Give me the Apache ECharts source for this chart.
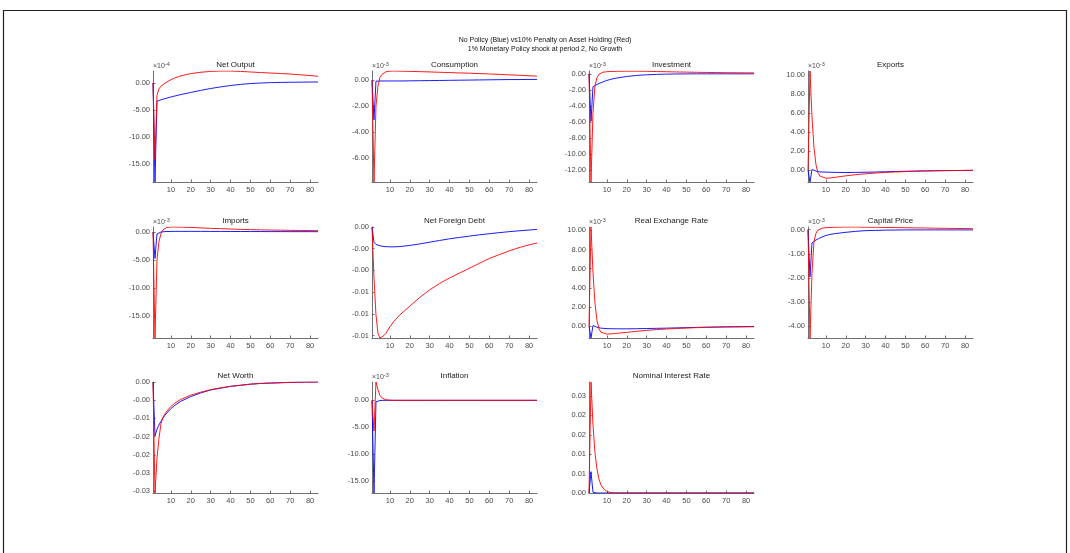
<!DOCTYPE html>
<html>
<head>
<meta charset="utf-8">
<script src="https://cdn.jsdelivr.net/npm/echarts@6/dist/echarts.min.js"></script>
<style>
html,body{margin:0;padding:0;background:#fff;}
#chart{width:1070px;height:553px;}
</style>
</head>
<body>
<div id="chart"></div>
<script>
// ---------- data ----------
const periods = [1,2,3,4,5,6,7,8,10,12,15,20,25,30,35,40,45,50,55,60,65,70,75,80,84];
const xTicks = [10,20,30,40,50,60,70,80];

const supTitle = 'No Policy (Blue) vs10% Penalty on Asset Holding (Red)\n1% Monetary Policy shock at period 2, No Growth';
const titles = ['Net Output','Consumption','Investment','Exports','Imports','Net Foreign Debt','Real Exchange Rate','Capital Price','Net Worth','Inflation','Nominal Interest Rate'];
const exponents = [-4,-3,-3,-3,-3,null,-3,-3,null,-3,null];

// Net Output (x1e-4)
const netOutputBlue = [0,-18.3,-3.4,-3.25,-3.12,-3.0,-2.9,-2.8,-2.6,-2.42,-2.15,-1.76,-1.38,-1.03,-0.74,-0.48,-0.28,-0.12,-0.02,0.05,0.09,0.12,0.14,0.16,0.17];
const netOutputRed  = [0,-14.2,-2.3,-1.1,-0.6,-0.3,-0.05,0.18,0.6,0.92,1.3,1.72,1.97,2.12,2.2,2.2,2.12,2.02,1.92,1.83,1.74,1.64,1.5,1.36,1.23];
const netOutputTicks = [-15,-10,-5,0];
const netOutputTickLabels = ['-15.00','-10.00','-5.00','0.00'];
const netOutputRange = [-18.3, 2.2];

// Consumption (x1e-3)
const consumptionBlue = [0,-3.06,-0.08,-0.06,-0.06,-0.06,-0.06,-0.06,-0.06,-0.06,-0.06,-0.05,-0.04,-0.03,-0.02,-0.01,0.0,0.01,0.02,0.03,0.04,0.05,0.05,0.06,0.06];
const consumptionRed  = [0,-7.86,-2.0,-0.45,0.2,0.45,0.58,0.65,0.70,0.71,0.70,0.68,0.66,0.64,0.61,0.59,0.56,0.54,0.51,0.48,0.45,0.41,0.38,0.34,0.31];
const consumptionTicks = [-6,-4,-2,0];
const consumptionTickLabels = ['-6.00','-4.00','-2.00','0.00'];
const consumptionRange = [-7.86, 0.71];

// Investment (x1e-3)
const investmentBlue = [0,-5.9,-1.6,-1.45,-1.32,-1.2,-1.1,-1.0,-0.82,-0.68,-0.52,-0.33,-0.2,-0.12,-0.07,-0.04,-0.02,-0.01,0,0,0,0,0,0,0];
const investmentRed  = [0,-13.44,-4.8,-1.5,-0.5,-0.05,0.12,0.2,0.26,0.29,0.31,0.33,0.33,0.31,0.28,0.26,0.23,0.21,0.19,0.17,0.155,0.14,0.13,0.12,0.11];
const investmentTicks = [-12,-10,-8,-6,-4,-2,0];
const investmentTickLabels = ['-12.00','-10.00','-8.00','-6.00','-4.00','-2.00','0.00'];
const investmentRange = [-13.44, 0.35];

// Exports (x1e-3)
const exportsBlue = [0,-1.25,0.07,0.0,-0.1,-0.16,-0.19,-0.2,-0.21,-0.22,-0.24,-0.25,-0.24,-0.22,-0.2,-0.17,-0.14,-0.12,-0.1,-0.08,-0.06,-0.05,-0.04,-0.03,-0.02];
const exportsRed  = [0,10.45,5.6,2.4,0.6,-0.3,-0.62,-0.76,-0.85,-0.83,-0.75,-0.6,-0.48,-0.38,-0.3,-0.24,-0.19,-0.15,-0.12,-0.09,-0.07,-0.05,-0.04,-0.03,-0.02];
const exportsTicks = [0,2,4,6,8,10];
const exportsTickLabels = ['0.00','2.00','4.00','6.00','8.00','10.00'];
const exportsRange = [-1.25, 10.45];

// Imports (x1e-3)
const importsBlue = [0,-4.7,-0.35,-0.1,0.0,0.05,0.08,0.1,0.11,0.12,0.12,0.12,0.12,0.11,0.11,0.1,0.1,0.09,0.09,0.08,0.08,0.07,0.07,0.07,0.06];
const importsRed  = [0,-18.9,-5.0,-1.7,-0.3,0.4,0.7,0.82,0.9,0.9,0.88,0.82,0.74,0.66,0.6,0.54,0.48,0.43,0.39,0.36,0.33,0.3,0.28,0.26,0.25];
const importsTicks = [-15,-10,-5,0];
const importsTickLabels = ['-15.00','-10.00','-5.00','0.00'];
const importsRange = [-18.9, 0.9];

// Net Foreign Debt
const nfdBlue = [0,-0.0014,-0.0016,-0.00168,-0.00173,-0.00177,-0.0018,-0.00182,-0.00183,-0.00183,-0.0018,-0.0017,-0.00156,-0.0014,-0.00124,-0.00109,-0.00096,-0.00084,-0.00072,-0.00062,-0.00052,-0.00043,-0.00035,-0.00028,-0.00022];
const nfdRed  = [0,-0.0047,-0.0081,-0.0098,-0.01023,-0.0102,-0.0100,-0.0098,-0.0092,-0.0087,-0.0081,-0.0073,-0.0065,-0.0058,-0.0052,-0.0047,-0.00425,-0.0038,-0.00335,-0.0029,-0.00255,-0.0022,-0.0019,-0.00165,-0.00148];
const nfdTicks = [-0.01,-0.008,-0.006,-0.004,-0.002,0];
const nfdTickLabels = ['-0.01','-0.01','-0.01','-0.00','-0.00','0.00'];
const nfdRange = [-0.01023, 0];

// Real Exchange Rate (x1e-3)
const rerBlue = [0,-1.25,0.05,-0.03,-0.12,-0.18,-0.22,-0.25,-0.27,-0.28,-0.29,-0.29,-0.28,-0.26,-0.24,-0.22,-0.19,-0.17,-0.14,-0.12,-0.1,-0.08,-0.07,-0.06,-0.05];
const rerRed  = [0,10.35,5.6,2.4,0.6,-0.3,-0.65,-0.78,-0.84,-0.82,-0.76,-0.66,-0.55,-0.45,-0.37,-0.31,-0.26,-0.21,-0.17,-0.14,-0.12,-0.1,-0.09,-0.08,-0.07];
const rerTicks = [0,2,4,6,8,10];
const rerTickLabels = ['0.00','2.00','4.00','6.00','8.00','10.00'];
const rerRange = [-1.25, 10.35];

// Capital Price (x1e-3)
const capBlue = [0,-1.95,-0.55,-0.48,-0.43,-0.38,-0.34,-0.3,-0.24,-0.2,-0.16,-0.11,-0.07,-0.04,-0.03,-0.02,-0.015,-0.01,-0.01,-0.01,-0.01,-0.01,-0.01,-0.01,-0.01];
const capRed  = [0,-4.48,-1.8,-0.5,-0.15,-0.02,0.03,0.06,0.08,0.09,0.1,0.11,0.11,0.1,0.1,0.09,0.085,0.08,0.075,0.07,0.06,0.055,0.05,0.045,0.04];
const capTicks = [-4,-3,-2,-1,0];
const capTickLabels = ['-4.00','-3.00','-2.00','-1.00','0.00'];
const capRange = [-4.48, 0.11];

// Net Worth
const nwBlue = [0,-0.0148,-0.013,-0.0118,-0.0108,-0.0099,-0.0091,-0.0085,-0.0073,-0.0064,-0.0053,-0.0040,-0.0030,-0.0022,-0.0017,-0.0012,-0.0009,-0.0006,-0.0004,-0.0003,-0.0002,-0.0001,-0.00005,0,0];
const nwRed  = [0,-0.0305,-0.021,-0.0155,-0.0115,-0.0097,-0.0088,-0.0080,-0.0067,-0.0058,-0.0048,-0.0036,-0.0028,-0.0021,-0.0016,-0.0012,-0.0009,-0.0006,-0.0004,-0.0003,-0.0002,-0.0001,-0.00005,0,0];
const nwTicks = [-0.03,-0.025,-0.02,-0.015,-0.01,-0.005,0];
const nwTickLabels = ['-0.03','-0.03','-0.02','-0.02','-0.01','-0.00','0.00'];
const nwRange = [-0.0305, 0];

// Inflation (x1e-3)
const inflBlue = [0,-17.2,-0.3,-0.1,-0.03,0,0,0,0,0,0,0,0,0,0,0,0,0,0,0,0,0,0,0,0];
const inflRed  = [0,-5.7,3.4,2.0,0.9,0.45,0.22,0.1,0.02,0,0,0,0,0,0,0,0,0,0,0,0,0,0,0,0];
const inflTicks = [-15,-10,-5,0];
const inflTickLabels = ['-15.00','-10.00','-5.00','0.00'];
const inflRange = [-17.2, 3.4];

// Nominal Interest Rate
const nirBlue = [0,0.0055,0.0002,0,0,0,0,0,0,0,0,0,0,0,0,0,0,0,0,0,0,0,0,0,0];
const nirRed  = [0,0.0286,0.0176,0.0104,0.0062,0.0036,0.0021,0.0013,0.0004,0.0001,0,0,0,0,0,0,0,0,0,0,0,0,0,0,0];
const nirTicks = [0,0.005,0.01,0.015,0.02,0.025];
const nirTickLabels = ['0.00','0.01','0.01','0.02','0.02','0.03'];
const nirRange = [0, 0.0286];

const blueSeries = [netOutputBlue,consumptionBlue,investmentBlue,exportsBlue,importsBlue,nfdBlue,rerBlue,capBlue,nwBlue,inflBlue,nirBlue];
const redSeries  = [netOutputRed,consumptionRed,investmentRed,exportsRed,importsRed,nfdRed,rerRed,capRed,nwRed,inflRed,nirRed];
const yTicks = [netOutputTicks,consumptionTicks,investmentTicks,exportsTicks,importsTicks,nfdTicks,rerTicks,capTicks,nwTicks,inflTicks,nirTicks];
const yTickLabels = [netOutputTickLabels,consumptionTickLabels,investmentTickLabels,exportsTickLabels,importsTickLabels,nfdTickLabels,rerTickLabels,capTickLabels,nwTickLabels,inflTickLabels,nirTickLabels];
const yRanges = [netOutputRange,consumptionRange,investmentRange,exportsRange,importsRange,nfdRange,rerRange,capRange,nwRange,inflRange,nirRange];

// ---------- layout / style ----------
const colLeft = [153, 372, 589, 808];
const rowTop = [71, 227, 382];
const plotW = 165, plotH = 111;
const FONT = 'Liberation Sans, Arial, Helvetica, sans-serif';
const axisColor = '#707070';
const labelColor = '#4a4a4a';

const grids = [], xAxes = [], yAxes = [], series = [];
const titleList = [{
  text: supTitle, left: 545, top: 36, textAlign: 'center', padding: 0,
  textStyle: {fontSize: 7, lineHeight: 9, fontWeight: 'normal', color: '#111', fontFamily: FONT}
}];

titles.forEach((t, i) => {
  const r = Math.floor(i / 4), c = i % 4;
  const left = colLeft[c], top = rowTop[r];
  grids.push({left: left, top: top, width: plotW, height: plotH, containLabel: false});
  titleList.push({
    text: t, left: left + plotW / 2, top: top - 10, textAlign: 'center', padding: 0,
    textStyle: {fontSize: 8, fontWeight: 'normal', color: '#1a1a1a', fontFamily: FONT}
  });
  xAxes.push({
    type: 'value', gridIndex: i, min: 1, max: 84, position: 'bottom',
    axisLine: {show: true, onZero: false, lineStyle: {color: axisColor, width: 1}},
    axisTick: {show: true, inside: true, length: 2.5, customValues: xTicks, lineStyle: {color: axisColor}},
    axisLabel: {customValues: xTicks, fontSize: 7.5, color: labelColor, margin: 4, fontFamily: FONT},
    splitLine: {show: false}
  });
  const ticks = yTicks[i], labs = yTickLabels[i];
  const exp = exponents[i];
  yAxes.push({
    type: 'value', gridIndex: i, min: yRanges[i][0], max: yRanges[i][1], position: 'left',
    axisLine: {show: true, onZero: false, lineStyle: {color: axisColor, width: 1}},
    axisTick: {show: true, inside: true, length: 2.5, customValues: ticks, lineStyle: {color: axisColor}},
    axisLabel: {
      customValues: ticks, fontSize: 7.5, color: labelColor, margin: 3, fontFamily: FONT,
      formatter: function (v) {
        let k = 0, best = Infinity;
        ticks.forEach((tv, j) => { const d = Math.abs(tv - v); if (d < best) { best = d; k = j; } });
        return labs[k];
      }
    },
    splitLine: {show: false},
    name: exp === null ? '' : '{a|×10}{b|' + exp + '}',
    nameLocation: 'end', nameGap: 0,
    nameTextStyle: {
      align: 'left', verticalAlign: 'bottom', color: labelColor, fontFamily: FONT,
      rich: {
        a: {fontSize: 7, color: labelColor, fontFamily: FONT, lineHeight: 10},
        b: {fontSize: 5.5, color: labelColor, fontFamily: FONT, verticalAlign: 'top', lineHeight: 7}
      }
    }
  });
  series.push({
    type: 'line', xAxisIndex: i, yAxisIndex: i, showSymbol: false, symbol: 'none',
    data: periods.map((p, k) => [p, blueSeries[i][k]]),
    lineStyle: {color: '#0000ff', width: 0.9}, silent: true
  });
  series.push({
    type: 'line', xAxisIndex: i, yAxisIndex: i, showSymbol: false, symbol: 'none',
    data: periods.map((p, k) => [p, redSeries[i][k]]),
    lineStyle: {color: '#ff0000', width: 0.9}, silent: true
  });
});

const chart = echarts.init(document.getElementById('chart'), null, {renderer: 'canvas'});
chart.setOption({
  animation: false,
  backgroundColor: '#ffffff',
  title: titleList,
  grid: grids,
  xAxis: xAxes,
  yAxis: yAxes,
  series: series,
  graphic: [{
    type: 'polyline',
    shape: {points: [[3.5, 560], [3.5, 10.5], [1066.5, 10.5], [1066.5, 560]]},
    style: {stroke: '#222', fill: null, lineWidth: 1.2},
    silent: true
  }]
});
</script>
</body>
</html>
